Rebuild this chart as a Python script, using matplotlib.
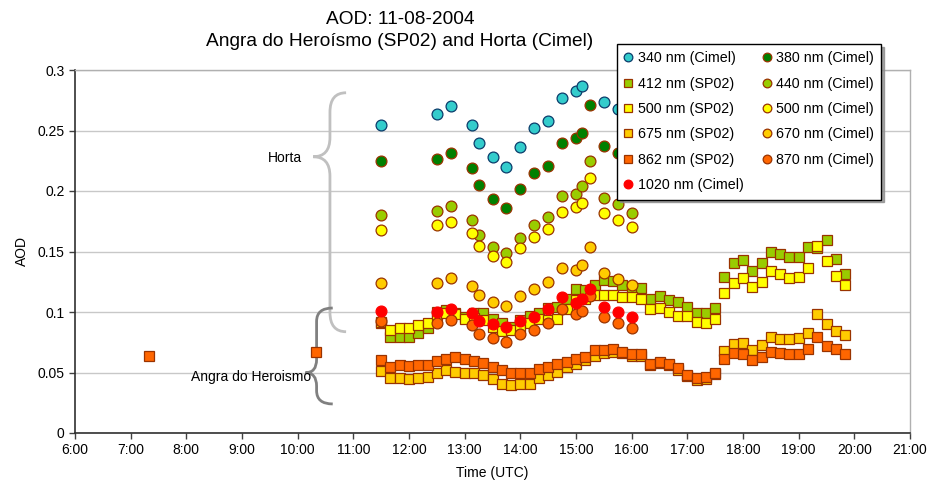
import numpy as np
import matplotlib
matplotlib.use("Agg")
import matplotlib.pyplot as plt
from matplotlib.path import Path
from matplotlib.patches import PathPatch

plt.rcParams["font.family"] = ["Liberation Sans", "DejaVu Sans"]

# SP02 (Angra do Heroismo), every 10 minutes
sp02_times = ["11:30", "11:40", "11:50", "12:00", "12:10", "12:20", "12:30", "12:40", "12:50",
              "13:00", "13:10", "13:20", "13:30", "13:40", "13:50", "14:00", "14:10", "14:20",
              "14:30", "14:40", "14:50", "15:00", "15:10", "15:20", "15:30", "15:40", "15:50",
              "16:00", "16:10", "16:20", "16:30", "16:40", "16:50", "17:00", "17:10", "17:20",
              "17:30", "17:40", "17:50", "18:00", "18:10", "18:20", "18:30", "18:40", "18:50",
              "19:00", "19:10", "19:20", "19:30", "19:40", "19:50"]
sp02_412 = [0.0906, 0.0791, 0.0796, 0.0796, 0.0829, 0.0865, 0.1003, 0.1017, 0.0992, 0.0961,
            0.0994, 0.0994, 0.0940, 0.0910, 0.0880, 0.0934, 0.0967, 0.0989, 0.1030, 0.1044,
            0.1105, 0.1188, 0.1182, 0.1223, 0.1264, 0.1259, 0.1223, 0.1196, 0.1196, 0.1105,
            0.1132, 0.1099, 0.1085, 0.1044, 0.0994, 0.0989, 0.1030, 0.1292, 0.1402, 0.1430,
            0.1341, 0.1402, 0.1498, 0.1479, 0.1452, 0.1452, 0.1535, 0.1530, 0.1595, 0.1435,
            0.1314]
sp02_500 = [0.0920, 0.0851, 0.0870, 0.0870, 0.0893, 0.0912, 0.0975, 0.0989, 0.0983, 0.0940,
            0.0948, 0.0934, 0.0873, 0.0846, 0.0848, 0.0879, 0.0912, 0.0940, 0.0934, 0.0940,
            0.1022, 0.1099, 0.1105, 0.1140, 0.1140, 0.1140, 0.1127, 0.1127, 0.1109, 0.1022,
            0.1030, 0.1003, 0.0967, 0.0967, 0.0920, 0.0912, 0.0940, 0.1154, 0.1242, 0.1278,
            0.1209, 0.1250, 0.1341, 0.1311, 0.1283, 0.1292, 0.1361, 0.1545, 0.1424, 0.1298,
            0.1223]
sp02_675 = [0.0515, 0.0452, 0.0452, 0.0444, 0.0452, 0.0460, 0.0498, 0.0521, 0.0507, 0.0498,
            0.0498, 0.0480, 0.0444, 0.0405, 0.0394, 0.0405, 0.0405, 0.0452, 0.0480, 0.0507,
            0.0548, 0.0570, 0.0603, 0.0636, 0.0660, 0.0670, 0.0660, 0.0640, 0.0640, 0.0560,
            0.0580, 0.0560, 0.0520, 0.0470, 0.0440, 0.0450, 0.0490, 0.0678, 0.0736, 0.0741,
            0.0686, 0.0730, 0.0791, 0.0780, 0.0774, 0.0782, 0.0829, 0.0983, 0.0901, 0.0843,
            0.0810]
sp02_862 = [0.0603, 0.0543, 0.0562, 0.0554, 0.0562, 0.0562, 0.0592, 0.0611, 0.0625, 0.0609,
            0.0592, 0.0581, 0.0543, 0.0518, 0.0493, 0.0493, 0.0493, 0.0532, 0.0543, 0.0570,
            0.0589, 0.0609, 0.0631, 0.0686, 0.0686, 0.0692, 0.0672, 0.0653, 0.0653, 0.0570,
            0.0589, 0.0570, 0.0534, 0.0480, 0.0452, 0.0466, 0.0499, 0.0614, 0.0659, 0.0653,
            0.0603, 0.0631, 0.0669, 0.0659, 0.0650, 0.0653, 0.0692, 0.0791, 0.0719, 0.0692,
            0.0653]
early_times = ["07:20", "10:20"]
early_862 = [0.0639, 0.0672]

# Cimel (Horta)
cimel_times = ["11:30", "12:30", "12:45", "13:08", "13:15", "13:30", "13:45", "14:00", "14:15",
               "14:30", "14:45", "15:00", "15:07", "15:15", "15:30", "15:45", "16:00"]
cimel_340 = [0.2545, 0.2636, 0.2702, 0.2545, 0.2399, 0.2278, 0.2201, 0.2361, 0.2518, 0.2581,
             0.2766, 0.2829, 0.2870, np.nan, 0.2738, 0.2675, 0.2620]
cimel_380 = [0.2248, 0.2262, 0.2311, 0.2190, 0.2047, 0.1931, 0.1860, 0.2019, 0.2152, 0.2207,
             0.2394, 0.2435, 0.2477, 0.2711, 0.2372, 0.2311, 0.2260]
cimel_440 = [0.1802, 0.1837, 0.1876, 0.1760, 0.1634, 0.1540, 0.1485, 0.1614, 0.1719, 0.1782,
             0.1959, 0.1975, 0.2041, 0.2250, 0.1945, 0.1890, 0.1815]
cimel_500 = [0.1678, 0.1719, 0.1747, 0.1650, 0.1545, 0.1463, 0.1411, 0.1526, 0.1623, 0.1686,
             0.1824, 0.1865, 0.1904, 0.2105, 0.1821, 0.1760, 0.1705]
cimel_670 = [0.1242, 0.1242, 0.1278, 0.1215, 0.1140, 0.1080, 0.1050, 0.1132, 0.1187, 0.1250,
             0.1361, 0.1347, 0.1388, 0.1540, 0.1325, 0.1270, 0.1220]
cimel_870 = [0.0928, 0.0912, 0.0934, 0.0893, 0.0818, 0.0782, 0.0755, 0.0818, 0.0851, 0.0912,
             0.1022, 0.0983, 0.1011, 0.1132, 0.0956, 0.0912, 0.0865]
cimel_1020 = [0.1011, 0.1003, 0.1022, 0.0994, 0.0928, 0.0901, 0.0879, 0.0928, 0.0956, 0.1022,
              0.1121, 0.1072, 0.1105, 0.1190, 0.1039, 0.1003, 0.0956]

hour_ticks = list(range(6, 22))
hour_labels = [f"{h}:00" for h in hour_ticks]


def to_hours(times):
    return [int(t[:2]) + int(t[3:]) / 60 for t in times]


t_sp = to_hours(sp02_times)
t_early = to_hours(early_times)
t_ci = to_hours(cimel_times)

fig = plt.figure(figsize=(9.36, 4.92), dpi=100)
ax = fig.add_axes([75 / 936, 59 / 492, 835 / 936, 363 / 492])

edge = "#993300"
sq = dict(marker="s", ms=7, mew=0.9, mec=edge, ls="none")
ci = dict(marker="o", ms=7.8, mew=0.9, mec=edge, ls="none")

handles = {}
handles["412"], = ax.plot(t_sp, sp02_412, mfc="#99CC00", label="412 nm (SP02)", **sq)
handles["500s"], = ax.plot(t_sp, sp02_500, mfc="#FFFF00", label="500 nm (SP02)", **sq)
handles["675"], = ax.plot(t_sp, sp02_675, mfc="#FFCC00", label="675 nm (SP02)", **sq)
handles["862"], = ax.plot(t_sp, sp02_862, mfc="#FF6600", label="862 nm (SP02)", **sq)
ax.plot(t_early, early_862, mfc="#FF6600", **sq)

handles["340"], = ax.plot(t_ci, cimel_340, marker="o", ms=7.8, mew=0.9, mec="#0B3C6B",
                          mfc="#33CCCC", ls="none", label="340 nm (Cimel)")
handles["380"], = ax.plot(t_ci, cimel_380, mfc="#008000", label="380 nm (Cimel)", **ci)
handles["440"], = ax.plot(t_ci, cimel_440, mfc="#99CC00", label="440 nm (Cimel)", **ci)
handles["500c"], = ax.plot(t_ci, cimel_500, mfc="#FFFF00", label="500 nm (Cimel)", **ci)
handles["670"], = ax.plot(t_ci, cimel_670, mfc="#FFCC00", label="670 nm (Cimel)", **ci)
handles["870"], = ax.plot(t_ci, cimel_870, mfc="#FF6600", label="870 nm (Cimel)", **ci)
handles["1020"], = ax.plot(t_ci, cimel_1020, marker="o", ms=7.8, mew=0.9, mec="#FF0000",
                           mfc="#FF0000", ls="none", label="1020 nm (Cimel)")


def brace(x_tip, x_mid, x_end, y_top, y_tip, y_bot, r):
    verts = [(x_end, y_top), (x_mid, y_top), (x_mid, y_top - r),
             (x_mid, y_tip + r), (x_mid, y_tip), (x_tip, y_tip),
             (x_mid, y_tip), (x_mid, y_tip - r),
             (x_mid, y_bot + r), (x_mid, y_bot), (x_end, y_bot)]
    codes = [Path.MOVETO, Path.CURVE3, Path.CURVE3,
             Path.LINETO, Path.CURVE3, Path.CURVE3,
             Path.CURVE3, Path.CURVE3,
             Path.LINETO, Path.CURVE3, Path.CURVE3]
    return Path(verts, codes)


ax.add_patch(PathPatch(brace(10.28, 10.58, 10.87, 0.2812, 0.2283, 0.0837, 0.016),
                       fill=False, ec="#C0C0C0", lw=2.0, capstyle="butt"))
ax.add_patch(PathPatch(brace(10.14, 10.34, 10.63, 0.1033, 0.0498, 0.0240, 0.011),
                       fill=False, ec="#808080", lw=2.0, capstyle="butt"))
ax.text(9.77, 0.2275, "Horta", ha="center", va="center", fontsize=10)
ax.text(9.17, 0.0462, "Angra do Heroismo", ha="center", va="center", fontsize=10)

ax.set_xlim(6, 21)
ax.set_ylim(0, 0.3)
ax.set_xticks(hour_ticks)
ax.set_xticklabels(hour_labels)
ax.set_yticks([0, 0.05, 0.1, 0.15, 0.2, 0.25, 0.3])
ax.set_yticklabels(["0", "0.05", "0.1", "0.15", "0.2", "0.25", "0.3"])
ax.tick_params(axis="both", labelsize=10, length=4, width=1, color="#404040", direction="out")
ax.grid(axis="y", color="#C8C8C8", lw=1)
ax.set_axisbelow(True)
for s in ["top", "right"]:
    ax.spines[s].set_color("#B0B0B0")
    ax.spines[s].set_linewidth(1)
for s in ["left", "bottom"]:
    ax.spines[s].set_color("#303030")
    ax.spines[s].set_linewidth(1.2)

ax.set_xlabel("Time (UTC)", fontsize=10, labelpad=6)
ax.set_ylabel("AOD", fontsize=10, labelpad=6)

fig.text(400 / 936, 1 - 20 / 492, "AOD: 11-08-2004", ha="center", va="center", fontsize=13.8)
fig.text(400 / 936, 1 - 41 / 492, "Angra do Heroísmo (SP02) and Horta (Cimel)",
         ha="center", va="center", fontsize=13.8)

order = ["340", "412", "500s", "675", "862", "1020", "380", "440", "500c", "670", "870"]
leg = fig.legend([handles[k] for k in order], [handles[k].get_label() for k in order],
                 loc="upper left", bbox_to_anchor=(617 / 936, 1 - 44 / 492), ncol=2,
                 fontsize=10.3, frameon=True, fancybox=False,
                 shadow={"color": "0.55", "alpha": 0.8},
                 edgecolor="black", borderaxespad=0, markerscale=0.8, handlelength=0.6,
                 handletextpad=0.35, columnspacing=1.3, labelspacing=0.8, borderpad=0.5)
leg.get_frame().set_linewidth(1)

fig.savefig("out.png", dpi=100)
